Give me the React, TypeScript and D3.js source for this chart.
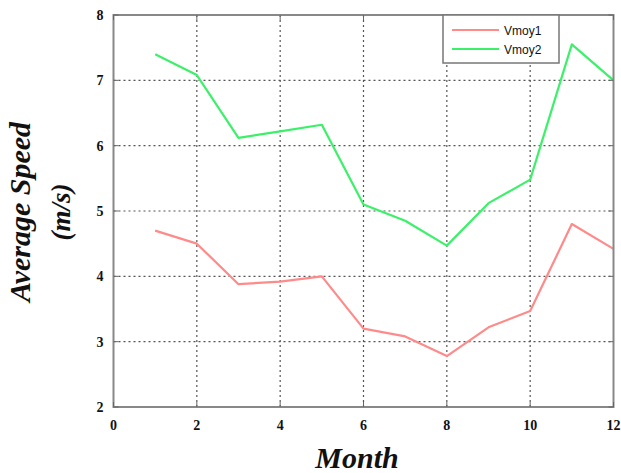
import React, { useEffect, useRef } from 'react';
import * as d3 from 'd3';

const months = [1, 2, 3, 4, 5, 6, 7, 8, 9, 10, 11, 12];
const vmoy1 = [4.7, 4.5, 3.88, 3.92, 4.0, 3.2, 3.08, 2.78, 3.22, 3.47, 4.8, 4.42];
const vmoy2 = [7.4, 7.08, 6.12, 6.22, 6.32, 5.1, 4.85, 4.47, 5.12, 5.48, 7.55, 7.0];
const xTicks = [0, 2, 4, 6, 8, 10, 12];
const yTicks = [2, 3, 4, 5, 6, 7, 8];
const seriesNames = ['Vmoy1', 'Vmoy2'];
const seriesColors = ['#ff8a8a', '#3df06a'];

const App: React.FC = () => {
  const svgRef = useRef<SVGSVGElement>(null);

  useEffect(() => {
    if (!svgRef.current) return;
    const svg = d3.select(svgRef.current);
    svg.selectAll('*').remove();

    const left = 113.5, right = 613.5, top = 15, bottom = 407;
    const x = d3.scaleLinear().domain([0, 12]).range([left, right]);
    const y = d3.scaleLinear().domain([2, 8]).range([bottom, top]);

    svg.append('rect').attr('width', 621).attr('height', 473).attr('fill', '#fff');

    // grid
    const grid = svg.append('g').attr('stroke', '#555').attr('stroke-width', 1.2).attr('stroke-dasharray', '2,3');
    xTicks.slice(1, -1).forEach(t => {
      grid.append('line').attr('x1', x(t)).attr('x2', x(t)).attr('y1', top).attr('y2', bottom);
    });
    yTicks.slice(1, -1).forEach(t => {
      grid.append('line').attr('x1', left).attr('x2', right).attr('y1', y(t)).attr('y2', y(t));
    });

    // lines
    const line = d3.line<number>().x((_, i) => x(months[i])).y(d => y(d));
    [vmoy1, vmoy2].forEach((vals, i) => {
      svg.append('path')
        .attr('d', line(vals) || '')
        .attr('fill', 'none')
        .attr('stroke', seriesColors[i])
        .attr('stroke-width', 2.2)
        .attr('stroke-linejoin', 'round');
    });

    // frame
    svg.append('rect')
      .attr('x', left).attr('y', top).attr('width', right - left).attr('height', bottom - top)
      .attr('fill', 'none').attr('stroke', '#888').attr('stroke-width', 2);

    // ticks inward
    const tk = svg.append('g').attr('stroke', '#666').attr('stroke-width', 1);
    xTicks.forEach(t => {
      tk.append('line').attr('x1', x(t)).attr('x2', x(t)).attr('y1', bottom).attr('y2', bottom - 5);
      tk.append('line').attr('x1', x(t)).attr('x2', x(t)).attr('y1', top).attr('y2', top + 5);
    });
    yTicks.forEach(t => {
      tk.append('line').attr('x1', left).attr('x2', left + 5).attr('y1', y(t)).attr('y2', y(t));
      tk.append('line').attr('x1', right).attr('x2', right - 5).attr('y1', y(t)).attr('y2', y(t));
    });

    // tick labels
    const font = '"Liberation Serif", serif';
    xTicks.forEach(t => {
      svg.append('text').attr('x', x(t)).attr('y', bottom + 23)
        .attr('text-anchor', 'middle').attr('font-family', font).attr('font-weight', 'bold')
        .attr('font-size', 14).attr('fill', '#111').text(t);
    });
    yTicks.forEach(t => {
      svg.append('text').attr('x', left - 10).attr('y', y(t) + 5)
        .attr('text-anchor', 'end').attr('font-family', font).attr('font-weight', 'bold')
        .attr('font-size', 14).attr('fill', '#111').text(t);
    });

    // axis labels
    svg.append('text').attr('x', 357).attr('y', 468)
      .attr('text-anchor', 'middle').attr('font-family', font).attr('font-weight', 'bold')
      .attr('font-style', 'italic').attr('font-size', 30).attr('fill', '#111').text('Month');
    const yl = svg.append('g').attr('transform', 'translate(0,212) rotate(-90)');
    yl.append('text').attr('x', 0).attr('y', 30)
      .attr('text-anchor', 'middle').attr('font-family', font).attr('font-weight', 'bold')
      .attr('font-style', 'italic').attr('font-size', 30).attr('fill', '#111').text('Average Speed');
    yl.append('text').attr('x', 0).attr('y', 70)
      .attr('text-anchor', 'middle').attr('font-family', font).attr('font-weight', 'bold')
      .attr('font-style', 'italic').attr('font-size', 27).attr('fill', '#111').text('(m/s)');

    // legend
    const lg = svg.append('g').attr('transform', 'translate(443,15)');
    lg.append('rect').attr('width', 116).attr('height', 48)
      .attr('fill', '#fff').attr('stroke', '#777').attr('stroke-width', 1.5);
    seriesNames.forEach((n, i) => {
      const ly = 15 + i * 19;
      lg.append('line').attr('x1', 9).attr('x2', 56).attr('y1', ly).attr('y2', ly)
        .attr('stroke', seriesColors[i]).attr('stroke-width', 2.2);
      lg.append('text').attr('x', 61).attr('y', ly + 4.5)
        .attr('font-family', '"Liberation Sans", Arial, sans-serif').attr('font-size', 12)
        .attr('fill', '#111').text(n);
    });
  }, []);

  return <svg ref={svgRef} width={621} height={473} style={{ position: 'absolute', left: 0, top: 0 }} />;
};

export default App;
